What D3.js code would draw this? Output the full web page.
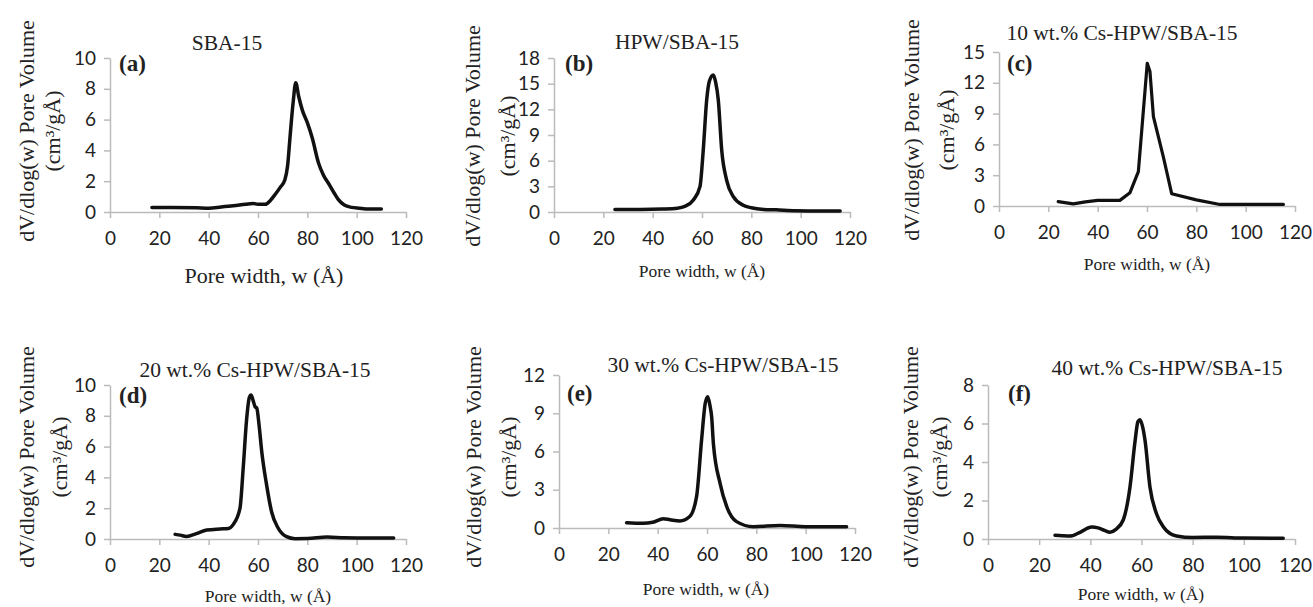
<!DOCTYPE html>
<html>
<head>
<meta charset="utf-8">
<script src="https://cdn.jsdelivr.net/npm/d3@7"></script>
<style>
  body { margin: 0; background: #fff; }
  svg { display: block; }
  .axis .domain, .axis line { stroke: #bbb; stroke-width: 1.5; }
  .axis text { font-family: Lato, 'Open Sans', sans-serif; font-size: 19px; fill: #222; }
  .serif { font-family: 'Liberation Serif', 'DejaVu Serif', serif; fill: #222; }
</style>
</head>
<body>
<div id="chart"></div>
<script>
// tick labels
const xTicks = [0, 20, 40, 60, 80, 100, 120]
const yTicksA = [0, 2, 4, 6, 8, 10]
const yTicksB = [0, 3, 6, 9, 12, 15, 18]
const yTicksC = [0, 3, 6, 9, 12, 15]
const yTicksD = [0, 2, 4, 6, 8, 10]
const yTicksE = [0, 3, 6, 9, 12]
const yTicksF = [0, 2, 4, 6, 8]

const titles = ['SBA-15', 'HPW/SBA-15', '10 wt.% Cs-HPW/SBA-15', '20 wt.% Cs-HPW/SBA-15', '30 wt.% Cs-HPW/SBA-15', '40 wt.% Cs-HPW/SBA-15']
const panelLetters = ['(a)', '(b)', '(c)', '(d)', '(e)', '(f)']

// pore width (Å) and dV/dlog(w)
const widthA = [17, 25, 35, 40, 45, 50, 55, 58, 60, 63, 65, 67, 69, 70.9, 72, 73, 74.3, 75.3, 76.5, 78, 80, 82, 84.5, 86.5, 89, 91, 92.6, 95, 98, 101, 105, 110]
const volA = [0.3, 0.3, 0.28, 0.25, 0.32, 0.4, 0.5, 0.55, 0.5, 0.5, 0.75, 1.15, 1.6, 2.1, 3.0, 4.9, 7.2, 8.4, 7.5, 6.6, 5.8, 4.8, 3.2, 2.4, 1.75, 1.2, 0.8, 0.45, 0.3, 0.25, 0.2, 0.2]

const widthB = [24.7, 35, 44, 50, 53, 56.5, 59.2, 60.5, 61.9, 63, 64.6, 65.5, 66.6, 68, 70, 72.7, 76.7, 80, 85, 90, 98, 108, 116]
const volB = [0.3, 0.3, 0.35, 0.45, 0.65, 1.4, 3.0, 7.2, 13.1, 15.3, 16.0, 15.2, 13.1, 7.2, 3.7, 1.8, 0.8, 0.5, 0.3, 0.25, 0.15, 0.12, 0.12]

const widthC = [24, 27.4, 30.1, 35, 40, 45, 49, 53.1, 56.5, 60.1, 61.2, 62.6, 66.6, 70, 80, 89.6, 100, 115.3]
const volC = [0.42, 0.3, 0.2, 0.4, 0.55, 0.55, 0.55, 1.3, 3.35, 13.9, 13.1, 8.7, 4.8, 1.2, 0.6, 0.15, 0.15, 0.15]

const widthD = [26.4, 28.5, 31, 35, 39.2, 44.6, 48, 50, 52.7, 54, 55.4, 56.5, 57.2, 58, 58.8, 59.5, 60.5, 61.5, 63.5, 65.5, 68.2, 71.6, 75, 80, 88, 95, 105, 115]
const volD = [0.3, 0.25, 0.17, 0.35, 0.58, 0.65, 0.68, 0.95, 2.0, 4.6, 7.8, 9.2, 9.35, 9.0, 8.6, 8.5, 7.3, 5.7, 3.5, 1.77, 0.7, 0.15, 0.02, 0.03, 0.13, 0.08, 0.06, 0.06]

const widthE = [27.4, 34, 38, 42.3, 45, 49, 53, 55.8, 57.8, 59.3, 60.3, 61.2, 61.9, 62.6, 65.3, 68, 72, 78.8, 89.6, 100, 116.6]
const volE = [0.42, 0.37, 0.45, 0.73, 0.65, 0.55, 0.9, 2.5, 6.9, 9.8, 10.3, 9.6, 8.7, 6.6, 3.5, 1.67, 0.5, 0.1, 0.2, 0.1, 0.1]

const widthF = [26.2, 29, 32, 36, 40.5, 43, 45.5, 47.7, 50, 52.9, 55.5, 57.5, 58.6, 59.4, 60.3, 61.4, 63.3, 65.9, 68.5, 71, 73.7, 80, 89.4, 100, 115.4]
const volF = [0.2, 0.17, 0.15, 0.35, 0.62, 0.58, 0.45, 0.35, 0.5, 1.0, 2.7, 5.1, 6.1, 6.2, 5.9, 5.1, 2.7, 1.3, 0.64, 0.3, 0.16, 0.08, 0.09, 0.05, 0.04]

const series = [
  { w: widthA, v: volA, yTicks: yTicksA, smooth: true },
  { w: widthB, v: volB, yTicks: yTicksB, smooth: true },
  { w: widthC, v: volC, yTicks: yTicksC, smooth: false },
  { w: widthD, v: volD, yTicks: yTicksD, smooth: true },
  { w: widthE, v: volE, yTicks: yTicksE, smooth: true },
  { w: widthF, v: volF, yTicks: yTicksF, smooth: true }
]

// where each panel sits on the page
const layout = [
  { x0: 110, x1: 406, yTop: 58, yBot: 212, title: [227, 50], tag: [119, 71], xt: [264, 283, 22], yt: [27, 53, 131] },
  { x0: 554, x1: 850, yTop: 58, yBot: 212, title: [677, 49], tag: [565, 71], xt: [702, 277, 17.5], yt: [473, 508, 136] },
  { x0: 999, x1: 1295, yTop: 52, yBot: 206, title: [1122, 40], tag: [1007, 71], xt: [1147, 270, 17.5], yt: [912, 947, 130] },
  { x0: 110, x1: 406, yTop: 385, yBot: 539, title: [255, 377], tag: [119, 403], xt: [268, 602, 17.5], yt: [27, 60, 457] },
  { x0: 559, x1: 855, yTop: 375, yBot: 528, title: [723, 372], tag: [567, 401], xt: [706, 595, 17.5], yt: [474, 509, 457] },
  { x0: 988, x1: 1295, yTop: 385, yBot: 539, title: [1167, 375], tag: [1008, 401], xt: [1141, 600, 17.5], yt: [911, 940, 457] }
]

const svg = d3
  .select('#chart')
  .append('svg')
  .attr('width', 1313)
  .attr('height', 607)

series.forEach(function(s, i) {
  const L = layout[i]
  const yMax = s.yTicks[s.yTicks.length - 1]

  const x = d3.scaleLinear().domain([0, 120]).range([L.x0, L.x1])
  const y = d3.scaleLinear().domain([0, yMax]).range([L.yBot, L.yTop])

  const g = svg.append('g').attr('class', 'panel')

  g.append('g')
    .attr('class', 'axis')
    .attr('transform', 'translate(0,' + L.yBot + ')')
    .call(d3.axisBottom(x).tickValues(xTicks).tickSize(6).tickSizeOuter(0).tickPadding(14).tickFormat(d3.format('d')))
    .call(a => a.selectAll('text').attr('font-family', null).attr('font-size', null))

  g.append('g')
    .attr('class', 'axis')
    .attr('transform', 'translate(' + L.x0 + ',0)')
    .call(d3.axisLeft(y).tickValues(s.yTicks).tickSize(6).tickSizeOuter(0).tickPadding(8).tickFormat(d3.format('d')))
    .call(a => a.selectAll('text').attr('font-family', null).attr('font-size', null))

  const pts = s.w.map((w, k) => [w, s.v[k]])
  const line = d3
    .line()
    .x(d => x(d[0]))
    .y(d => y(d[1]))
    .curve(s.smooth ? d3.curveMonotoneX : d3.curveLinear)

  g.append('path')
    .datum(pts)
    .attr('d', line)
    .attr('fill', 'none')
    .attr('stroke', '#111')
    .attr('stroke-width', s.smooth ? 3.5 : 3.2)
    .attr('stroke-linejoin', 'round')
    .attr('stroke-linecap', 'round')

  // chart title
  g.append('text')
    .attr('class', 'serif')
    .attr('x', L.title[0])
    .attr('y', L.title[1])
    .attr('text-anchor', 'middle')
    .attr('font-size', 21.5)
    .text(titles[i])

  // panel letter
  g.append('text')
    .attr('class', 'serif')
    .attr('x', L.tag[0])
    .attr('y', L.tag[1])
    .attr('font-size', 23)
    .attr('font-weight', 'bold')
    .text(panelLetters[i])

  // x title
  g.append('text')
    .attr('class', 'serif')
    .attr('x', L.xt[0])
    .attr('y', L.xt[1])
    .attr('text-anchor', 'middle')
    .attr('font-size', L.xt[2])
    .text('Pore width, w (Å)')

  // y title, two lines
  g.append('text')
    .attr('class', 'serif')
    .attr('transform', 'translate(' + L.yt[0] + ',' + L.yt[2] + ') rotate(-90)')
    .attr('text-anchor', 'middle')
    .attr('dy', '0.3em')
    .attr('font-size', 22)
    .text('dV/dlog(w) Pore Volume')

  g.append('text')
    .attr('class', 'serif')
    .attr('transform', 'translate(' + L.yt[1] + ',' + L.yt[2] + ') rotate(-90)')
    .attr('text-anchor', 'middle')
    .attr('dy', '0.3em')
    .attr('font-size', 22)
    .text('(cm³/gÅ)')
})
</script>
</body>
</html>
